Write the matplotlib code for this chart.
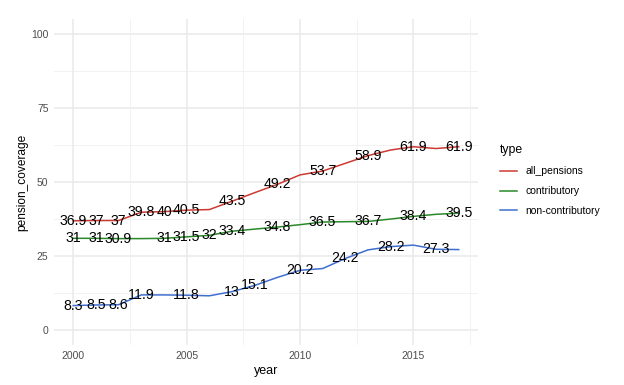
import matplotlib
matplotlib.use("Agg")
import matplotlib.pyplot as plt
from matplotlib.transforms import Bbox
import numpy as np

years = list(range(2000, 2018))
all_pensions = [36.9, 37, 37, 39.8, 40, 40.5, 40.7, 43.5, 46.4, 49.2, 52.4, 53.7, 56.3, 58.9, 60.8, 61.9, 61.3, 61.9]
contributory = [31, 31, 30.9, 30.9, 31, 31.5, 32, 33.4, 34.1, 34.8, 35.6, 36.5, 36.6, 36.7, 37.5, 38.4, 39.1, 39.5]
non_contributory = [8.3, 8.5, 8.6, 11.9, 11.9, 11.8, 11.6, 13, 15.1, 17.8, 20.2, 20.8, 24.2, 27.1, 28.2, 28.7, 27.3, 27.2]
series_names = ["all_pensions", "contributory", "non-contributory"]
series_values = [all_pensions, contributory, non_contributory]
colors = ["#CB3A33", "#2A8A2A", "#3F6FCF"]
yticks = [0, 25, 50, 75, 100]
xticks = [2000, 2005, 2010, 2015]

plt.rcParams['font.family'] = ['Liberation Sans', 'DejaVu Sans']

W, H = 624, 385
fig = plt.figure(figsize=(W / 100, H / 100), dpi=100)
left, right, top, bottom = 54, 478, 19, 345
ax = fig.add_axes([left / W, 1 - bottom / H, (right - left) / W, (bottom - top) / H])
ax.set_xlim(1999.15, 2017.85)
ax.set_ylim(-5, 105)
ax.set_facecolor("white")
for s in ax.spines.values():
    s.set_visible(False)

# grid
for y in yticks:
    ax.axhline(y, color="#EBEBEB", lw=1.2, zorder=0)
for y in [12.5, 37.5, 62.5, 87.5]:
    ax.axhline(y, color="#F2F2F2", lw=0.7, zorder=0)
for x in xticks:
    ax.axvline(x, color="#EBEBEB", lw=1.2, zorder=0)
for x in [2002.5, 2007.5, 2012.5, 2017.5]:
    ax.axvline(x, color="#F2F2F2", lw=0.7, zorder=0)

ax.set_xticks(xticks)
ax.set_yticks(yticks)
ax.tick_params(length=0, labelsize=7.5, labelcolor="#4D4D4D", pad=4)
ax.set_xlabel("year", fontsize=9, labelpad=3)
ax.set_ylabel("pension_coverage", fontsize=8.6, labelpad=2)

handles = []
for name, vals, c in zip(series_names, series_values, colors):
    h, = ax.plot(years, vals, color=c, lw=1.1, zorder=2, label=name)
    handles.append(h)

# labels with overlap check (like ggplot check_overlap)
fig.canvas.draw()
renderer = fig.canvas.get_renderer()
drawn = []
shrink = 1.5
for vals in series_values:
    for x, v in zip(years, vals):
        lbl = f"{v:g}"
        t = ax.text(x, v, lbl, ha="center", va="center", fontsize=10.2, color="black", zorder=3)
        bb = t.get_window_extent(renderer)
        bb = Bbox.from_extents(bb.x0 + shrink, bb.y0, bb.x1 - shrink, bb.y1)
        if any(bb.overlaps(o) for o in drawn):
            t.remove()
        else:
            drawn.append(bb)

leg = fig.legend(handles=handles, labels=series_names, loc="upper left",
                 bbox_to_anchor=(491 / W, 1 - 135 / H), frameon=False, title="type",
                 fontsize=7.5, title_fontsize=8.8, handlelength=1.6, labelspacing=0.95,
                 handletextpad=0.8, alignment="left")

fig.savefig("out.png", dpi=100, facecolor="white")
